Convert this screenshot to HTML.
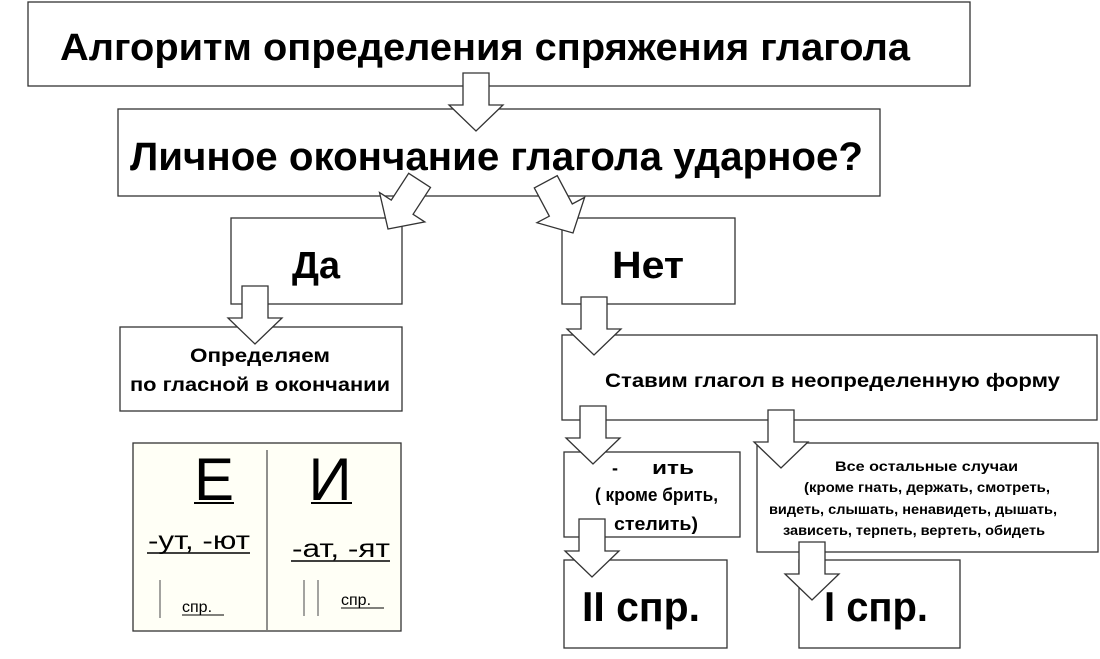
<!DOCTYPE html>
<html><head><meta charset="utf-8"><style>
html,body{margin:0;padding:0;background:#fff}
svg{display:block}
text{font-family:"Liberation Sans","DejaVu Sans",sans-serif}
.b{font-weight:bold}
</style></head><body>
<svg width="1100" height="659" viewBox="0 0 1100 659" xmlns="http://www.w3.org/2000/svg">
<defs>
<path id="ar" d="M-13,-58 L13,-58 L13,-26 L27,-26 L0,0 L-27,-26 L-13,-26 Z" fill="#fff" stroke="#333" stroke-width="1.3"/>
</defs>
<g fill="#fff" stroke="#333" stroke-width="1.3">
<rect x="28" y="2" width="942" height="84"/>
<rect x="118" y="109" width="762" height="87"/>
<rect x="231" y="218" width="171" height="86"/>
<rect x="562" y="218" width="173" height="86"/>
<rect x="120" y="327" width="282" height="84"/>
<rect x="562" y="335" width="535" height="85"/>
<rect x="133" y="443" width="268" height="188" fill="#fffff6"/>
<rect x="564" y="452" width="176" height="85"/>
<rect x="757" y="443" width="341" height="109"/>
<rect x="564" y="560" width="163" height="88"/>
<rect x="799" y="560" width="161" height="88"/>
</g>
<line x1="267" y1="450" x2="267" y2="630" stroke="#555" stroke-width="1.3"/>
<use href="#ar" transform="translate(476,131)"/>
<use href="#ar" transform="translate(388,229) rotate(33)"/>
<use href="#ar" transform="translate(573,233) rotate(-28)"/>
<use href="#ar" transform="translate(255,344)"/>
<use href="#ar" transform="translate(594,355)"/>
<use href="#ar" transform="translate(593,464)"/>
<use href="#ar" transform="translate(781,468)"/>
<use href="#ar" transform="translate(592,577)"/>
<use href="#ar" transform="translate(812,600)"/>
<g class="b" fill="#000" lengthAdjust="spacingAndGlyphs">
<text x="60" y="60" font-size="38" textLength="850" lengthAdjust="spacingAndGlyphs">Алгоритм определения спряжения глагола</text>
<text x="130" y="170" font-size="40" textLength="733" lengthAdjust="spacingAndGlyphs">Личное окончание глагола ударное?</text>
<text x="292" y="278" font-size="38" textLength="48" lengthAdjust="spacingAndGlyphs">Да</text>
<text x="612" y="278" font-size="38" textLength="72" lengthAdjust="spacingAndGlyphs">Нет</text>
<text x="190" y="362" font-size="19" textLength="140" lengthAdjust="spacingAndGlyphs">Определяем</text>
<text x="130" y="391" font-size="19" textLength="260" lengthAdjust="spacingAndGlyphs">по гласной в окончании</text>
<text x="605" y="387" font-size="19" textLength="455" lengthAdjust="spacingAndGlyphs">Ставим глагол в неопределенную форму</text>
<text x="612" y="474" font-size="18">-</text>
<text x="652" y="474" font-size="18" textLength="42" lengthAdjust="spacingAndGlyphs">ить</text>
<text x="595" y="501" font-size="18" textLength="123" lengthAdjust="spacingAndGlyphs">( кроме брить,</text>
<text x="614" y="530" font-size="18" textLength="84" lengthAdjust="spacingAndGlyphs">стелить)</text>
<text x="835" y="471" font-size="14" textLength="183" lengthAdjust="spacingAndGlyphs">Все остальные случаи</text>
<text x="804" y="492" font-size="14" textLength="246" lengthAdjust="spacingAndGlyphs">(кроме гнать, держать, смотреть,</text>
<text x="769" y="514" font-size="14" textLength="288" lengthAdjust="spacingAndGlyphs">видеть, слышать, ненавидеть, дышать,</text>
<text x="783" y="535" font-size="14" textLength="262" lengthAdjust="spacingAndGlyphs">зависеть, терпеть, вертеть, обидеть</text>
<text x="582" y="621" font-size="42" textLength="118" lengthAdjust="spacingAndGlyphs">II спр.</text>
<text x="824" y="621" font-size="42" textLength="104" lengthAdjust="spacingAndGlyphs">I спр.</text>
</g>
<g fill="#000" text-anchor="middle">
<text x="214" y="500" font-size="60">Е</text>
<line x1="194" y1="503" x2="234" y2="503" stroke="#000" stroke-width="2"/>
<text x="330" y="500" font-size="60">И</text>
<line x1="311" y1="503" x2="352" y2="503" stroke="#000" stroke-width="2"/>
</g>
<g fill="#000">
<text x="148" y="549" font-size="25" textLength="102" lengthAdjust="spacingAndGlyphs">-ут, -ют</text>
<line x1="147" y1="553" x2="250" y2="553" stroke="#000" stroke-width="1.5"/>
<text x="292" y="557" font-size="25" textLength="98" lengthAdjust="spacingAndGlyphs">-ат, -ят</text>
<line x1="291" y1="561" x2="390" y2="561" stroke="#000" stroke-width="1.5"/>
<text x="182" y="612" font-size="16">спр.</text>
<line x1="182" y1="615" x2="224" y2="615" stroke="#000" stroke-width="1"/>
<text x="341" y="605" font-size="16">спр.</text>
<line x1="341" y1="608" x2="384" y2="608" stroke="#000" stroke-width="1"/>
</g>
<g stroke="#666" stroke-width="1.2">
<line x1="160" y1="580" x2="160" y2="618"/>
<line x1="304" y1="580" x2="304" y2="616"/>
<line x1="318" y1="580" x2="318" y2="616"/>
</g>
</svg>
</body></html>
